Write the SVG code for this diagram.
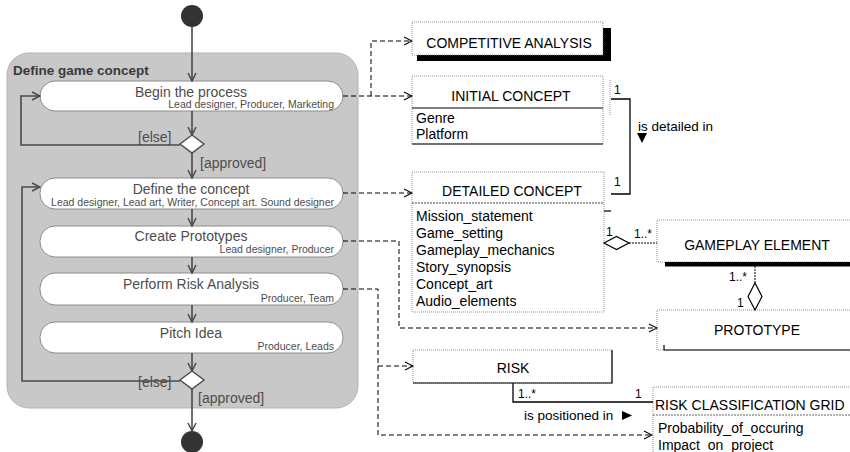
<svg xmlns="http://www.w3.org/2000/svg" width="850" height="452" viewBox="0 0 850 452">
  <style>
    .txt { font-family: "Liberation Sans", Arial, sans-serif; }
    .act-title { font-family: "Liberation Sans", Arial, sans-serif; font-size: 14px; fill: #4d4d4d; text-anchor: middle; }
    .act-role { font-family: "Liberation Sans", Arial, sans-serif; font-size: 10.5px; fill: #4d4d4d; text-anchor: end; }
    .guard { font-family: "Liberation Sans", Arial, sans-serif; font-size: 14px; fill: #4d4d4d; }
    .pill { fill: #ffffff; stroke: #8c8c8c; stroke-width: 1; }
    .flow { fill: none; stroke: #4a4a4a; stroke-width: 1.6; }
    .cls-title { font-family: "Liberation Sans", Arial, sans-serif; font-size: 14px; fill: #000; text-anchor: middle; }
    .attr { font-family: "Liberation Sans", Arial, sans-serif; font-size: 14px; fill: #000; }
    .mult { font-family: "Liberation Sans", Arial, sans-serif; font-size: 12px; fill: #000; }
    .dotted { fill: none; stroke: #777; stroke-width: 0.8; stroke-dasharray: 1 1; }
    .solid { fill: none; stroke: #000; stroke-width: 1.2; }
    .dep { fill: none; stroke: #000; stroke-width: 1; stroke-dasharray: 5 3; }
    .assoc { fill: none; stroke: #000; stroke-width: 1.3; }
  </style>
  <defs>
    <marker id="flowHead" viewBox="0 0 10 10" refX="9" refY="5" markerWidth="10" markerHeight="10" markerUnits="userSpaceOnUse" orient="auto">
      <path d="M1,1 L9,5 L1,9" fill="none" stroke="#4a4a4a" stroke-width="1.5"/>
    </marker>
    <marker id="depHead" viewBox="0 0 10 10" refX="9" refY="5" markerWidth="10" markerHeight="10" markerUnits="userSpaceOnUse" orient="auto">
      <path d="M1,1 L9,5 L1,9" fill="none" stroke="#000" stroke-width="1.1"/>
    </marker>
  </defs>

  <rect width="850" height="452" fill="#ffffff"/>

  <!-- Activity: Define game concept -->
  <g id="container">
    <rect x="7" y="53" width="351" height="355" rx="22" ry="22" fill="#c8c8c8" stroke="#b3b3b3" stroke-width="1"/>
    <text x="13" y="75" class="txt" font-size="13.5" font-weight="bold" fill="#3a3a3a">Define game concept</text>
  </g>

  <g id="start">
    <circle cx="192" cy="16" r="11" fill="#333"/>
  </g>
  <g id="end">
    <circle cx="192" cy="442" r="11" fill="#333"/>
  </g>

  <g id="begin">
    <rect class="pill" x="40" y="81" width="303" height="30" rx="15"/>
    <text class="act-title" x="191" y="97">Begin the process</text>
    <text class="act-role" x="334" y="108">Lead designer, Producer, Marketing</text>
  </g>
  <g id="decision1">
    <polygon points="192,135 204,144 192,153 180,144" fill="#fff" stroke="#4a4a4a" stroke-width="1.4"/>
  </g>
  <g id="define">
    <rect class="pill" x="40" y="178" width="303" height="31" rx="15"/>
    <text class="act-title" x="191" y="194">Define the concept</text>
    <text class="act-role" x="334" y="206">Lead designer, Lead art, Writer, Concept art. Sound designer</text>
  </g>
  <g id="prototypes">
    <rect class="pill" x="40" y="226" width="303" height="31" rx="15"/>
    <text class="act-title" x="191" y="241">Create Prototypes</text>
    <text class="act-role" x="334" y="253">Lead designer, Producer</text>
  </g>
  <g id="risk-analysis">
    <rect class="pill" x="40" y="273" width="303" height="32" rx="15"/>
    <text class="act-title" x="191" y="289">Perform Risk Analysis</text>
    <text class="act-role" x="334" y="302">Producer, Team</text>
  </g>
  <g id="pitch">
    <rect class="pill" x="40" y="322" width="303" height="31" rx="15"/>
    <text class="act-title" x="191" y="338">Pitch Idea</text>
    <text class="act-role" x="334" y="350">Producer, Leads</text>
  </g>
  <g id="decision2">
    <polygon points="192,371 204,380 192,389 180,380" fill="#fff" stroke="#4a4a4a" stroke-width="1.4"/>
  </g>

  <!-- Class boxes -->
  <g id="competitive-analysis">
    <rect x="417" y="28" width="194" height="33" fill="#000"/>
    <rect x="412" y="22" width="191" height="33" fill="#fff"/>
    <rect class="dotted" x="412" y="22" width="191" height="33"/>
    <text class="cls-title" x="509" y="48">COMPETITIVE ANALYSIS</text>
  </g>

  <g id="initial-concept">
    <rect class="dotted" x="412" y="76" width="191" height="68"/>
    <line class="solid" x1="412" y1="108" x2="603" y2="108" stroke-width="1"/>
    <line class="solid" x1="412" y1="144" x2="603" y2="144" stroke-width="1"/>
    <text class="cls-title" x="511" y="101">INITIAL CONCEPT</text>
    <text class="attr" x="416" y="123">Genre</text>
    <text class="attr" x="416" y="139">Platform</text>
    <line class="dotted" x1="610" y1="80" x2="610" y2="116"/>
  </g>

  <g id="detailed-concept">
    <rect class="dotted" x="412" y="172" width="192" height="140"/>
    <line x1="412" y1="203" x2="604" y2="203" stroke="#444" stroke-width="1" stroke-dasharray="2 1"/>
    <text class="cls-title" x="512" y="196">DETAILED CONCEPT</text>
    <text class="attr" x="416" y="221">Mission_statement</text>
    <text class="attr" x="416" y="238">Game_setting</text>
    <text class="attr" x="416" y="255">Gameplay_mechanics</text>
    <text class="attr" x="416" y="272">Story_synopsis</text>
    <text class="attr" x="416" y="289">Concept_art</text>
    <text class="attr" x="416" y="306">Audio_elements</text>
    <line class="solid" x1="604" y1="211" x2="611" y2="211" stroke-width="1"/>
  </g>

  <g id="gameplay-element">
    <rect class="dotted" x="657" y="220" width="200" height="42"/>
    <rect x="665" y="262" width="185" height="4.5" fill="#000"/>
    <text class="cls-title" x="757" y="250">GAMEPLAY ELEMENT</text>
  </g>

  <g id="prototype">
    <rect class="dotted" x="657" y="310" width="200" height="40"/>
    <path class="solid" d="M664,345 V350 H850" stroke-width="1"/>
    <text class="cls-title" x="757" y="335">PROTOTYPE</text>
  </g>

  <g id="risk">
    <rect class="dotted" x="413" y="350" width="199" height="33"/>
    <path class="solid" d="M612,350 V383 H413" stroke-width="1"/>
    <text class="cls-title" x="513" y="373">RISK</text>
  </g>

  <g id="risk-grid">
    <path class="dotted" d="M653,452 V387 H850"/>
    <line x1="653" y1="415" x2="850" y2="415" stroke="#555" stroke-width="0.9" stroke-dasharray="2 1"/>
    <text class="attr" x="655" y="410">RISK CLASSIFICATION GRID</text>
    <text class="attr" x="658" y="433">Probability_of_occuring</text>
    <text class="attr" x="658" y="450">Impact_on_project</text>
  </g>

  <!-- Connectors -->
  <g id="connectors">
    <!-- control flow -->
    <line class="flow" x1="192" y1="27" x2="192" y2="81" marker-end="url(#flowHead)"/>
    <line class="flow" x1="192" y1="111" x2="192" y2="135" marker-end="url(#flowHead)"/>
    <path class="flow" d="M180,145 H21 V96 H40" marker-end="url(#flowHead)"/>
    <line class="flow" x1="192" y1="153" x2="192" y2="178" marker-end="url(#flowHead)"/>
    <line class="flow" x1="192" y1="209" x2="192" y2="226" marker-end="url(#flowHead)"/>
    <line class="flow" x1="192" y1="257" x2="192" y2="273" marker-end="url(#flowHead)"/>
    <line class="flow" x1="192" y1="305" x2="192" y2="322" marker-end="url(#flowHead)"/>
    <line class="flow" x1="192" y1="353" x2="192" y2="371" marker-end="url(#flowHead)"/>
    <path class="flow" d="M180,381 H22 V187 H40" marker-end="url(#flowHead)"/>
    <line class="flow" x1="192" y1="389" x2="192" y2="431" marker-end="url(#flowHead)"/>

    <text class="guard" x="138" y="142">[else]</text>
    <text class="guard" x="200" y="168">[approved]</text>
    <text class="guard" x="138" y="387">[else]</text>
    <text class="guard" x="198" y="403">[approved]</text>

    <!-- object flows to artefacts -->
    <path class="dep" d="M343,96 H412" marker-end="url(#depHead)"/>
    <path class="dep" d="M371,96 V41 H412" marker-end="url(#depHead)"/>
    <path class="dep" d="M343,193 H412" marker-end="url(#depHead)"/>
    <path class="dep" d="M343,241 H399 V328 H657" marker-end="url(#depHead)"/>
    <path class="dep" d="M343,289 H378 V435 H652" marker-end="url(#depHead)"/>
    <path class="dep" d="M378,366 H413" marker-end="url(#depHead)"/>

    <!-- association: is detailed in -->
    <path class="assoc" d="M611,99 H630 V194 H611"/>
    <text class="mult" x="614" y="94">1</text>
    <text class="mult" x="614" y="186">1</text>
    <text class="txt" x="638" y="131" font-size="13.5">is detailed in</text>
    <polygon points="637,133 647,133 642,143" fill="#000"/>

    <!-- aggregation: detailed concept - gameplay element -->
    <polygon points="604,243 616.5,236.5 629,243 616.5,249.5" fill="#fff" stroke="#000" stroke-width="1.2"/>
    <line x1="629" y1="243" x2="657" y2="243" stroke="#000" stroke-width="1" stroke-dasharray="2 1"/>
    <text class="mult" x="606" y="236">1</text>
    <text class="mult" x="634" y="238">1..*</text>

    <!-- aggregation: prototype - gameplay element -->
    <line x1="755" y1="266" x2="755" y2="283" stroke="#000" stroke-width="1" stroke-dasharray="2 1"/>
    <polygon points="755,283 762,296.5 755,310 748,296.5" fill="#fff" stroke="#000" stroke-width="1.2"/>
    <text class="mult" x="729" y="281">1..*</text>
    <text class="mult" x="737" y="307">1</text>

    <!-- association: is positioned in -->
    <path class="assoc" d="M513,383 V402 H653"/>
    <text class="mult" x="518" y="398">1..*</text>
    <text class="mult" x="635" y="398">1</text>
    <text class="txt" x="524" y="420" font-size="13.5">is positioned in</text>
    <polygon points="622,411 632,415.5 622,420" fill="#000"/>
  </g>
</svg>
